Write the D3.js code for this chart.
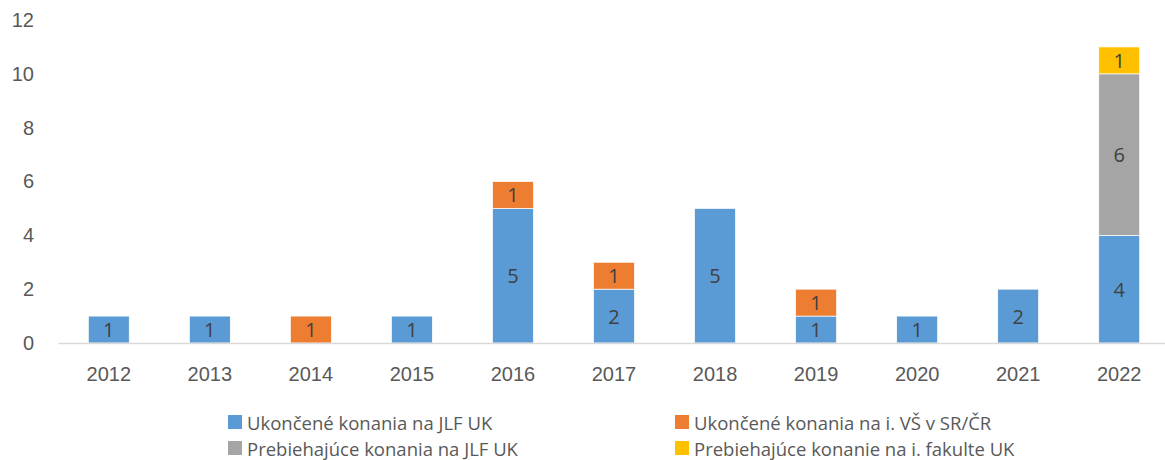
<!DOCTYPE html>
<html lang="sk">
<head>
  <meta charset="UTF-8">
  <title>Konania</title>
  <script src="https://d3js.org/d3.v7.min.js"></script>
  <style>
    body { margin: 0; background: #fff; font-family: 'Open Sans', 'Liberation Sans', sans-serif; }
    .axis text { font-size: 20px; fill: #595959; }
    .lbl { font-size: 20px; fill: #404040; }
    .legend text { font-size: 18.5px; fill: #595959; }
  </style>
</head>
<body>
  <svg width="1165" height="460"></svg>
  <script>
    const years = ['2012','2013','2014','2015','2016','2017','2018','2019','2020','2021','2022'];
    const seriesNames = ['Ukončené konania na JLF UK', 'Ukončené konania na i. VŠ v SR/ČR',
                         'Prebiehajúce konania na JLF UK', 'Prebiehajúce konanie na i. fakulte UK'];
    const jlfDone     = [1, 1, 0, 1, 5, 2, 5, 1, 1, 2, 4];
    const otherDone   = [0, 0, 1, 0, 1, 1, 0, 1, 0, 0, 0];
    const jlfRunning  = [0, 0, 0, 0, 0, 0, 0, 0, 0, 0, 6];
    const otherRunning = [0, 0, 0, 0, 0, 0, 0, 0, 0, 0, 1];
    const yTicks = [0, 2, 4, 6, 8, 10, 12];
    const colors = ['#5b9bd5', '#ed7d31', '#a5a5a5', '#ffc000'];

    const rows = years.map((y, i) => ({ year: y, s0: jlfDone[i], s1: otherDone[i], s2: jlfRunning[i], s3: otherRunning[i] }));
    const keys = ['s0', 's1', 's2', 's3'];
    const stacked = d3.stack().keys(keys)(rows);

    const svg = d3.select('svg');
    const plotLeft = 58, plotRight = 1170, plotTop = 20, plotBottom = 343;

    const x = d3.scaleBand().domain(years).range([plotLeft, plotRight]).paddingInner(0.595).paddingOuter(0.3);
    const y = d3.scaleLinear().domain([0, 12]).range([plotBottom, plotTop]);

    // y axis labels (no line)
    const yAxis = svg.append('g').attr('class', 'axis')
      .attr('transform', `translate(${plotLeft},0)`)
      .call(d3.axisLeft(y).tickValues(yTicks).tickSize(0).tickPadding(24));
    yAxis.select('.domain').remove();

    // bars
    stacked.forEach((layer, k) => {
      svg.append('g').selectAll('rect')
        .data(layer.filter(d => d[1] - d[0] > 0))
        .join('rect')
        .attr('x', d => x(d.data.year))
        .attr('y', d => y(d[1]))
        .attr('width', x.bandwidth())
        .attr('height', d => y(d[0]) - y(d[1]))
        .attr('fill', colors[k])
        .attr('stroke', '#fff')
        .attr('stroke-width', 0.7);
      svg.append('g').selectAll('text')
        .data(layer.filter(d => d[1] - d[0] > 0))
        .join('text')
        .attr('class', 'lbl')
        .attr('x', d => x(d.data.year) + x.bandwidth() / 2)
        .attr('y', d => (y(d[0]) + y(d[1])) / 2)
        .attr('text-anchor', 'middle')
        .attr('dominant-baseline', 'central')
        .text(d => d[1] - d[0]);
    });

    // x axis
    const xAxis = svg.append('g').attr('class', 'axis')
      .attr('transform', `translate(0,${plotBottom})`)
      .call(d3.axisBottom(x).tickSize(0).tickPadding(24));
    xAxis.select('.domain').attr('stroke', '#d9d9d9').attr('stroke-width', 1.5);

    // legend
    const legendPos = [[228, 422], [675, 422], [228, 448], [675, 448]];
    const legend = svg.append('g').attr('class', 'legend');
    seriesNames.forEach((name, i) => {
      const [lx, ly] = legendPos[i];
      legend.append('rect').attr('x', lx).attr('y', ly - 7).attr('width', 14).attr('height', 14).attr('fill', colors[i]);
      legend.append('text').attr('x', lx + 19).attr('y', ly).attr('dominant-baseline', 'central').text(name);
    });
  </script>
</body>
</html>
